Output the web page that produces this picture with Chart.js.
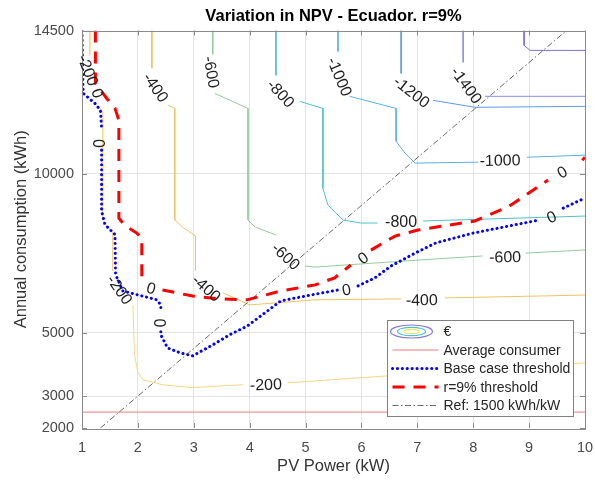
<!DOCTYPE html>
<html>
<head>
<meta charset="utf-8">
<script src="https://cdn.jsdelivr.net/npm/chart.js@4.4.0/dist/chart.umd.min.js"></script>
<style>
  body { margin: 0; background: #fff; }
  #wrap { width: 595px; height: 481px; }
</style>
</head>
<body>
<div id="wrap"><canvas id="npvChart" width="595" height="481"></canvas></div>
<script>
const FONT = "'Liberation Sans', Arial, Helvetica, sans-serif";

// axis ticks
const xTicks = [1, 2, 3, 4, 5, 6, 7, 8, 9, 10];
const yTicks = [2000, 3000, 5000, 10000, 14500];

// contour lines (PV kW, kWh), one list of segments per NPV level, gaps are where the labels sit
const contourLevels = [-200, -400, -600, -800, -1000, -1200, -1400, -1600];
const contour200 = [
  [[1.14, 14500], [1.14, 13720]],
  [[1.23, 12260], [1.37, 11950], [1.37, 8540], [1.55, 8130], [1.55, 6940]],
  [[1.91, 5870], [1.94, 4300], [2.00, 3740], [2.09, 3520], [2.44, 3360], [2.98, 3270], [3.88, 3360]],
  [[4.68, 3420], [6.47, 3640], [10.0, 4050]]
];
const contour400 = [
  [[2.25, 14500], [2.25, 13310]],
  [[2.54, 12150], [2.66, 12050], [2.66, 8540], [2.82, 8290], [3.03, 8040], [3.03, 6940]],
  [[3.52, 6250], [4.0, 5870], [5.17, 6030], [6.71, 6060]],
  [[7.49, 6090], [10.0, 6180]]
];
const contour600 = [
  [[3.34, 14500], [3.34, 13750]],
  [[3.38, 12520], [3.97, 12050], [3.97, 8540], [4.10, 8320], [4.47, 8070]],
  [[4.99, 7095], [5.17, 7060], [7.01, 7280], [8.17, 7410]],
  [[8.94, 7500], [10.0, 7600]]
];
const contour800 = [
  [[4.47, 14500], [4.47, 13090]],
  [[4.90, 12270], [5.31, 12050], [5.31, 9540], [5.40, 9010], [5.67, 8540], [5.99, 8445], [6.29, 8445]],
  [[7.10, 8510], [10.0, 8665]]
];
const contour1000 = [
  [[5.58, 14500], [5.58, 13840]],
  [[5.79, 12430], [6.62, 12050], [6.62, 11020], [6.78, 10640], [6.96, 10330], [8.09, 10360]],
  [[8.96, 10515], [10.0, 10580]]
];
const contour1200 = [
  [[6.71, 14500], [6.71, 13150]],
  [[7.28, 12305], [8.03, 12085], [10.0, 12115]]
];
const contour1400 = [
  [[7.82, 14500], [7.82, 13500]],
  [[8.21, 12430], [10.0, 12430]]
];
const contour1600 = [
  [[8.91, 14500], [8.91, 14030], [9.02, 13875], [10.0, 13875]]
];
const contourLines = [contour200, contour400, contour600, contour800, contour1000, contour1200, contour1400, contour1600];

// thresholds
const averageConsumer = [[1, 2500], [10, 2500]];
const baseCase = [
  [[1.0, 14500], [1.01, 13560], [1.02, 12525], [1.23, 12210], [1.33, 11990], [1.35, 11430]],
  [[1.35, 10740], [1.35, 8835], [1.41, 8400], [1.59, 8085], [1.60, 6830], [1.73, 6310], [2.0, 6185],
   [2.34, 6030], [2.41, 5870], [2.41, 5650]],
  [[2.41, 5030], [2.41, 4930], [2.53, 4520], [2.75, 4365], [2.98, 4270], [3.34, 4615], [3.64, 4930],
   [3.96, 5210], [4.56, 6000], [5.0, 6150], [5.58, 6340]],
  [[5.94, 6470], [6.24, 6720], [6.53, 7095], [6.96, 7500], [7.33, 7820], [8.0, 8130], [8.46, 8290], [9.18, 8540]],
  [[9.61, 8915], [10.0, 9230]]
];
const rateThreshold = [
  [[1.24, 14500], [1.24, 12840], [1.44, 12370], [1.59, 12055], [1.66, 11680], [1.66, 8600], [1.76, 8380],
   [1.98, 8130], [2.07, 7975], [2.07, 6560]],
  [[2.44, 6340], [2.98, 6150], [3.47, 6060], [3.95, 6030], [4.56, 6310], [5.17, 6500], [5.52, 6720], [5.81, 7125]],
  [[6.17, 7595], [6.60, 8035], [7.01, 8225], [8.03, 8510], [8.62, 8950], [9.34, 9795]],
  [[9.95, 10420], [10.0, 10515]]
];
const refLine = [[1.33, 2000], [9.67, 14500]];

// contour labels: text, x, y, angle
const contourLabels = [
  ['-200', 1.11, 13250, 69], ['0', 1.28, 12525, 69], ['0', 1.30, 10950, 90],
  ['-400', 2.32, 12710, 55], ['-600', 3.32, 13190, 80], ['-800', 4.56, 12520, 47],
  ['-1000', 5.61, 13050, 67], ['-1200', 6.90, 12570, 38], ['-1400', 7.88, 12780, 54],
  ['-200', 1.675, 6350, 55], ['0', 2.38, 5305, 90], ['0', 2.24, 6400, 15],
  ['-400', 3.23, 6400, 42], ['-600', 4.65, 7400, 43], ['0', 5.73, 6350, -10],
  ['0', 6.03, 7346, -35], ['-200', 4.29, 3370, -2], ['-400', 7.08, 6030, -1],
  ['-600', 8.57, 7380, -1], ['-800', 6.71, 8500, 0], ['-1000', 8.48, 10420, -1],
  ['0', 9.59, 10045, -30], ['0', 9.40, 8640, -25]
];

const legendLabels = ['€', 'Average consumer', 'Base case threshold', 'r=9% threshold', 'Ref: 1500 kWh/kW'];

const contourColors = ['#f9d684', '#f0c462', '#94cd9b', '#4fc2c8', '#5bb0ea', '#5f98ec', '#8d8fea', '#7e6fd6'];

function toPoints(segments) {
  const pts = [];
  segments.forEach((seg, i) => {
    if (i > 0) pts.push({ x: NaN, y: NaN });
    seg.forEach(p => pts.push({ x: p[0], y: p[1] }));
  });
  return pts;
}

const datasets = contourLines.map((segs, i) => ({
  label: String(contourLevels[i]),
  data: toPoints(segs),
  borderColor: contourColors[i],
  borderWidth: 1,
  order: 10
}));

const avgSet = { label: legendLabels[1], data: toPoints([averageConsumer]), borderColor: '#f47a7a', borderWidth: 1, order: 4 };
const baseSet = { label: legendLabels[2], data: toPoints(baseCase), borderColor: '#0000ff', borderWidth: 3,
  borderDash: [0.1, 4.8], borderCapStyle: 'round', order: 3 };
const rateSet = { label: legendLabels[3], data: toPoints(rateThreshold), borderColor: '#ff0000', borderWidth: 3,
  borderDash: [12, 9], order: 2 };
const refSet = { label: legendLabels[4], data: toPoints([refLine]), borderColor: '#444', borderWidth: 0.8,
  borderDash: [6, 2.5, 1.5, 2.5], order: 1 };
datasets.push(avgSet, baseSet, rateSet, refSet);

// contour labels drawn on top of the lines
const labelPlugin = {
  id: 'contourLabels',
  afterDatasetsDraw(chart) {
    const { ctx, scales: { x, y } } = chart;
    ctx.save();
    ctx.font = '16px ' + FONT;
    ctx.fillStyle = '#1e1e1e';
    ctx.textAlign = 'center';
    ctx.textBaseline = 'middle';
    contourLabels.forEach(([t, vx, vy, ang]) => {
      ctx.save();
      ctx.translate(x.getPixelForValue(vx), y.getPixelForValue(vy));
      ctx.rotate(ang * Math.PI / 180);
      ctx.fillText(t, 0, 1);
      ctx.restore();
    });
    ctx.restore();
  }
};

// matlab style box with inward ticks
const boxPlugin = {
  id: 'axesBox',
  afterDatasetsDraw(chart) {
    const { ctx, chartArea: a, scales: { x, y } } = chart;
    ctx.save();
    ctx.strokeStyle = '#8a8a8a';
    ctx.lineWidth = 1;
    ctx.beginPath();
    xTicks.forEach(v => {
      const px = Math.round(x.getPixelForValue(v)) + 0.5;
      ctx.moveTo(px, a.bottom); ctx.lineTo(px, a.bottom - 5);
      ctx.moveTo(px, a.top); ctx.lineTo(px, a.top + 5);
    });
    yTicks.forEach(v => {
      const py = Math.round(y.getPixelForValue(v)) + 0.5;
      ctx.moveTo(a.left, py); ctx.lineTo(a.left + 5, py);
      ctx.moveTo(a.right, py); ctx.lineTo(a.right - 5, py);
    });
    ctx.stroke();
    ctx.strokeRect(Math.round(a.left) + 0.5, Math.round(a.top) + 0.5,
      Math.round(a.right - a.left), Math.round(a.bottom - a.top));
    ctx.restore();
  }
};

const legendPlugin = {
  id: 'boxLegend',
  afterDraw(chart) {
    const { ctx, chartArea: a } = chart;
    const w = 186, h = 96;
    const left = Math.round(a.right - 12 - w) + 0.5, top = Math.round(a.bottom - 12 - h) + 0.5;
    ctx.save();
    ctx.fillStyle = '#fff';
    ctx.fillRect(left, top, w, h);
    ctx.strokeStyle = '#808080';
    ctx.lineWidth = 1;
    ctx.strokeRect(left, top, w, h);

    const rowY = i => top + 11 + i * 18.5;
    // contour icon
    const cx = left + 24, cy = rowY(0);
    [[21, 6.5, '#8a79d6'], [14, 4.2, '#48c0d2'], [7.5, 2.2, '#f2e25a']].forEach(([rx, ry, c]) => {
      ctx.beginPath();
      ctx.ellipse(cx, cy, rx, ry, 0, 0, Math.PI * 2);
      ctx.strokeStyle = c;
      ctx.lineWidth = 1.2;
      ctx.stroke();
    });
    [avgSet, baseSet, rateSet, refSet].forEach((ds, i) => {
      const yy = rowY(i + 1);
      ctx.beginPath();
      ctx.strokeStyle = ds.borderColor;
      ctx.lineWidth = ds.borderWidth;
      ctx.setLineDash(ds.borderDash || []);
      ctx.lineCap = ds.borderCapStyle || 'butt';
      ctx.moveTo(left + 5, yy);
      ctx.lineTo(left + 51, yy);
      ctx.stroke();
    });
    ctx.setLineDash([]);
    ctx.fillStyle = '#262626';
    ctx.font = '14px ' + FONT;
    ctx.textAlign = 'left';
    ctx.textBaseline = 'middle';
    legendLabels.forEach((t, i) => ctx.fillText(t, left + 56, rowY(i) + 1));
    ctx.restore();
  }
};

const gridColor = '#e4e4e4';

new Chart(document.getElementById('npvChart'), {
  type: 'scatter',
  data: { datasets: datasets.map(d => Object.assign({ showLine: true, pointRadius: 0, pointHoverRadius: 0, fill: false }, d)) },
  options: {
    responsive: false,
    animation: false,
    layout: { padding: { left: 0, right: 10, top: 0, bottom: 0 } },
    plugins: {
      legend: { display: false },
      tooltip: { enabled: false },
      title: {
        display: true,
        text: 'Variation in NPV - Ecuador. r=9%',
        fullSize: false,
        color: '#000',
        font: { family: FONT, size: 16.5, weight: 'bold' },
        padding: { top: 7, bottom: 3.7 }
      }
    },
    scales: {
      x: {
        type: 'linear', min: 1, max: 10,
        afterBuildTicks: s => { s.ticks = xTicks.map(v => ({ value: v })); },
        afterFit: s => { s.height = 53; s.paddingLeft = 0; s.paddingRight = 0; },
        ticks: { font: { family: FONT, size: 14.5 }, color: '#4a4a4a', padding: 11, maxRotation: 0 },
        grid: { drawTicks: false, color: c => (c.tick && c.tick.value > 1 && c.tick.value < 10) ? gridColor : 'rgba(0,0,0,0)' },
        border: { display: false },
        title: { display: true, text: 'PV Power (kW)', color: '#333', font: { family: FONT, size: 16.5 }, padding: { top: 0, bottom: 5 } }
      },
      y: {
        type: 'linear', min: 2000, max: 14500,
        afterBuildTicks: s => { s.ticks = yTicks.map(v => ({ value: v })); },
        afterFit: s => { s.width = 82; s.paddingTop = 0; s.paddingBottom = 0; },
        ticks: { font: { family: FONT, size: 14.5 }, color: '#4a4a4a', padding: 8, callback: v => String(v) },
        grid: { drawTicks: false, color: c => (c.tick && c.tick.value > 2000 && c.tick.value < 14500) ? gridColor : 'rgba(0,0,0,0)' },
        border: { display: false },
        title: { display: true, text: 'Annual consumption (kWh)', color: '#333', font: { family: FONT, size: 16.5 }, padding: { top: 12, bottom: 0 } }
      }
    }
  },
  plugins: [boxPlugin, labelPlugin, legendPlugin]
});
</script>
</body>
</html>
